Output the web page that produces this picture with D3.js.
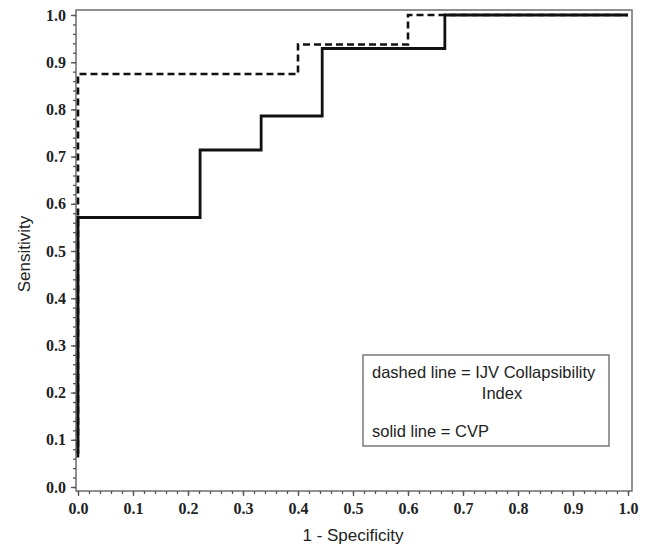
<!DOCTYPE html>
<html>
<head>
<meta charset="utf-8">
<script src="https://cdn.jsdelivr.net/npm/d3@7"></script>
<style>
  body { margin: 0; background: #fff; }
</style>
</head>
<body>
<div id="wrapper"></div>
<script>
width = 648
height = 549

// frame of the plot, in pixels
frameLeft = 76
frameRight = 632
frameTop = 10
frameBottom = 491

// ROC corners (1 - specificity, sensitivity)
var cvpFpr = [0, 0, 0.222, 0.333, 0.444, 0.667, 1.0]
var cvpSens = [0.071, 0.571, 0.714, 0.786, 0.929, 1.0, 1.0]
var ijvFpr = [0, 0, 0.4, 0.6, 1.0]
var ijvSens = [0.0625, 0.875, 0.9375, 1.0, 1.0]

var tickValues = [0, 0.1, 0.2, 0.3, 0.4, 0.5, 0.6, 0.7, 0.8, 0.9, 1.0]
var legendLines = ["dashed line = IJV Collapsibility", "Index", "solid line = CVP"]

const svg = d3.select("#wrapper").append("svg")
    .attr("width", width)
    .attr("height", height)

var x = d3.scaleLinear().domain([0, 1]).range([78, 628])
var y = d3.scaleLinear().domain([0, 1]).range([487, 15])

var minorTicks = d3.range(0, 51).map(d => d / 50)

// frame
svg.append("rect")
    .attr("x", frameLeft)
    .attr("y", frameTop)
    .attr("width", frameRight - frameLeft)
    .attr("height", frameBottom - frameTop)
    .attr("fill", "none")
    .attr("stroke", "#6e6e6e")
    .attr("stroke-width", 1.5)

// minor ticks
svg.append("g")
    .attr("transform", `translate(0,${frameBottom})`)
    .call(d3.axisBottom(x).tickValues(minorTicks).tickSize(3).tickFormat(""))
    .call(g => g.select(".domain").remove())
svg.append("g")
    .attr("transform", `translate(${frameLeft},0)`)
    .call(d3.axisLeft(y).tickValues(minorTicks).tickSize(3).tickFormat(""))
    .call(g => g.select(".domain").remove())

// major ticks
var xAxis = g => g
    .attr("transform", `translate(0,${frameBottom})`)
    .call(d3.axisBottom(x).tickValues(tickValues).tickSize(5).tickPadding(7).tickFormat(d3.format(".1f")))
    .call(g => g.select(".domain").remove())
var yAxis = g => g
    .attr("transform", `translate(${frameLeft},0)`)
    .call(d3.axisLeft(y).tickValues(tickValues).tickSize(5).tickPadding(5).tickFormat(d3.format(".1f")))
    .call(g => g.select(".domain").remove())

svg.append("g").call(xAxis)
svg.append("g").call(yAxis)

svg.selectAll(".tick line").attr("stroke", "#555").attr("stroke-width", 1.3)
svg.selectAll(".tick text")
    .attr("fill", "#222")
    .style("font", "bold 16px 'Liberation Serif', serif")

// axis titles
svg.append("text")
    .attr("x", (x(0) + x(1)) / 2)
    .attr("y", 541)
    .attr("text-anchor", "middle")
    .attr("fill", "#222")
    .style("font", "17px 'Liberation Sans', Arial, sans-serif")
    .text("1 - Specificity")

svg.append("text")
    .attr("transform", `translate(30,${(y(0) + y(1)) / 2 + 3}) rotate(-90)`)
    .attr("text-anchor", "middle")
    .attr("fill", "#222")
    .style("font", "17px 'Liberation Sans', Arial, sans-serif")
    .text("Sensitivity")

// curves
var line = d3.line()
    .x(d => x(d[0]))
    .y(d => y(d[1]))
    .curve(d3.curveStepAfter)

svg.append("path")
    .datum(ijvFpr.map((v, i) => [v, ijvSens[i]]))
    .attr("d", line)
    .attr("fill", "none")
    .attr("stroke", "#111")
    .attr("stroke-width", 2.6)
    .attr("stroke-dasharray", "7,4")

svg.append("path")
    .datum(cvpFpr.map((v, i) => [v, cvpSens[i]]))
    .attr("d", line)
    .attr("fill", "none")
    .attr("stroke", "#111")
    .attr("stroke-width", 2.8)

// legend box
var legend = svg.append("g")
legend.append("rect")
    .attr("x", 363)
    .attr("y", 355)
    .attr("width", 246)
    .attr("height", 91)
    .attr("fill", "#fff")
    .attr("stroke", "#666")
    .attr("stroke-width", 1.3)

legend.selectAll("text")
    .data(legendLines)
    .join("text")
    .attr("x", (d, i) => i == 1 ? 502 : 372)
    .attr("y", (d, i) => [378, 399, 437][i])
    .attr("text-anchor", (d, i) => i == 1 ? "middle" : "start")
    .attr("fill", "#222")
    .style("font", "16.5px 'Liberation Sans', Arial, sans-serif")
    .text(d => d)
</script>
</body>
</html>
